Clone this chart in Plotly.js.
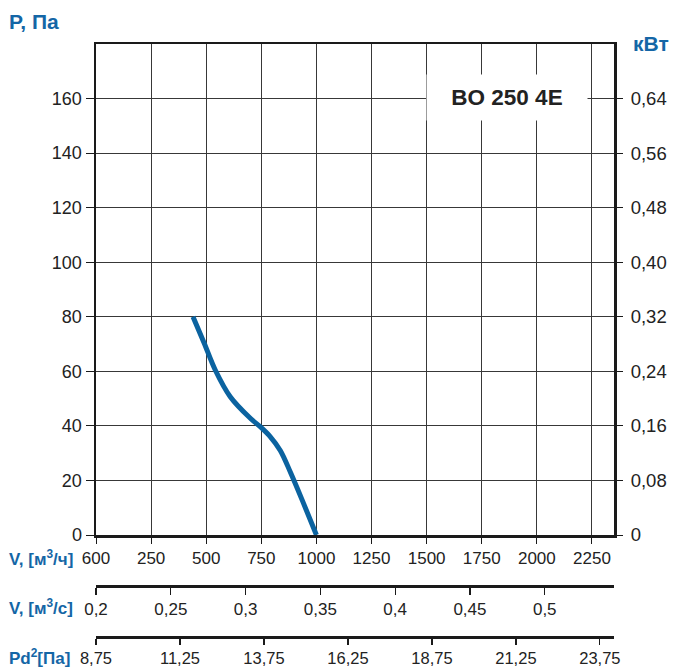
<!DOCTYPE html>
<html>
<head>
<meta charset="utf-8">
<script src="https://cdn.plot.ly/plotly-3.0.1.min.js"></script>
<style>html,body{margin:0;padding:0;background:#fff;}#chart{width:674px;height:669px;}</style>
</head>
<body>
<div id="chart"></div>
<script>
// ---- data ----
var flowM3h = [440, 490, 541, 609, 700, 745, 791, 836, 882, 942, 1000];
var pressurePa = [80, 70.5, 60.5, 50.7, 42.8, 39.7, 36, 31, 23, 11.5, 0];

var flowTickVals = [0, 250, 500, 750, 1000, 1250, 1500, 1750, 2000, 2250];
var flowTickText = ['600', '250', '500', '750', '1000', '1250', '1500', '1750', '2000', '2250'];

var pTickVals = [0, 20, 40, 60, 80, 100, 120, 140, 160];

var kwTickVals = [0, 0.08, 0.16, 0.24, 0.32, 0.40, 0.48, 0.56, 0.64];
var kwTickText = ['0', '0,08', '0,16', '0,24', '0,32', '0,40', '0,48', '0,56', '0,64'];

var flowM3sTickVals = [0.2, 0.25, 0.3, 0.35, 0.4, 0.45, 0.5];
var flowM3sTickText = ['0,2', '0,25', '0,3', '0,35', '0,4', '0,45', '0,5'];

var pdTickVals = [8.75, 11.25, 13.75, 16.25, 18.75, 21.25, 23.75];
var pdTickText = ['8,75', '11,25', '13,75', '16,25', '18,75', '21,25', '23,75'];

var modelName = 'BO 250 4E';

// ---- layout helpers ----
var L = 96, R = 614, T = 44, B = 637;
function px(x) { return (x - L) / (R - L); }
function py(y) { return (B - y) / (B - T); }

var blue = '#1466a6';
var ink = '#222222';
var font = 'Liberation Sans, Arial, Helvetica, sans-serif';

var traces = [
  {x: flowM3h, y: pressurePa, type: 'scatter', mode: 'lines',
   line: {color: '#0b63a0', width: 5, shape: 'spline', smoothing: 1},
   hoverinfo: 'skip', showlegend: false, xaxis: 'x', yaxis: 'y'},
  // empty carriers so that the secondary axes are drawn
  {x: [], y: [], type: 'scatter', mode: 'lines', showlegend: false, xaxis: 'x', yaxis: 'y2'},
  {x: [], y: [], type: 'scatter', mode: 'lines', showlegend: false, xaxis: 'x2', yaxis: 'y'},
  {x: [], y: [], type: 'scatter', mode: 'lines', showlegend: false, xaxis: 'x3', yaxis: 'y'}
];

var layout = {
  width: 674, height: 669,
  margin: {l: L, r: 674 - R, t: T, b: 669 - B, pad: 0},
  paper_bgcolor: '#fff', plot_bgcolor: '#fff',
  font: {family: font, size: 17, color: ink},
  showlegend: false,
  xaxis: {
    range: [0, 2350], domain: [0, 1], anchor: 'y',
    tickvals: flowTickVals, ticktext: flowTickText,
    showgrid: true, gridcolor: '#383838', gridwidth: 1,
    showline: true, linecolor: '#1a1a1a', linewidth: 2.5, mirror: true,
    ticks: 'outside', ticklen: 6, tickcolor: '#1a1a1a', tickwidth: 1,
    zeroline: false, tickfont: {size: 17, color: ink}, fixedrange: true
  },
  yaxis: {
    range: [0, 180], domain: [py(535), 1], anchor: 'x',
    tickvals: pTickVals,
    showgrid: true, gridcolor: '#383838', gridwidth: 1,
    showline: true, linecolor: '#1a1a1a', linewidth: 2.5, mirror: true,
    ticks: 'outside', ticklen: 8, tickcolor: '#1a1a1a', tickwidth: 1,
    zeroline: false, tickfont: {size: 18, color: ink}, fixedrange: true
  },
  yaxis2: {
    range: [0, 0.72], overlaying: 'y', side: 'right', anchor: 'x',
    tickvals: kwTickVals, ticktext: kwTickText,
    showgrid: false, showline: false, zeroline: false,
    ticks: 'outside', ticklen: 8, tickcolor: '#1a1a1a', tickwidth: 1,
    ticklabelstandoff: 4,
    tickfont: {size: 18.5, color: ink}, fixedrange: true
  },
  xaxis2: {
    range: [0.2, 0.5463], overlaying: 'x', anchor: 'free', position: py(586), side: 'bottom',
    tickvals: flowM3sTickVals, ticktext: flowM3sTickText,
    showgrid: false, zeroline: false,
    showline: true, linecolor: '#1a1a1a', linewidth: 2.5,
    ticks: 'outside', ticklen: 7, tickcolor: '#1a1a1a', tickwidth: 1.2,
    tickfont: {size: 17, color: ink}, fixedrange: true
  },
  xaxis3: {
    range: [8.75, 24.17], overlaying: 'x', anchor: 'free', position: 0, side: 'bottom',
    tickvals: pdTickVals, ticktext: pdTickText,
    showgrid: false, zeroline: false,
    showline: true, linecolor: '#1a1a1a', linewidth: 2.5,
    ticks: 'outside', ticklen: 6, tickcolor: '#1a1a1a', tickwidth: 1.2,
    tickfont: {size: 16.5, color: ink}, fixedrange: true
  },
  annotations: [
    {text: '<b>' + modelName + '</b>', xref: 'paper', yref: 'paper',
     x: px(507), y: py(97.5), xanchor: 'center', yanchor: 'middle',
     showarrow: false, bgcolor: '#fff', width: 160, height: 45, borderpad: 0,
     font: {size: 22.5, color: ink, family: font}},
    {text: '<b>P, Па</b>', xref: 'paper', yref: 'paper', x: px(7), y: py(22),
     xanchor: 'left', yanchor: 'middle', showarrow: false,
     font: {size: 21, color: blue, family: font}},
    {text: '<b>кВт</b>', xref: 'paper', yref: 'paper', x: px(671), y: py(43),
     xanchor: 'right', yanchor: 'middle', showarrow: false,
     font: {size: 21, color: blue, family: font}},
    {text: '<b>V, [м<sup>3</sup>/ч]</b>', xref: 'paper', yref: 'paper', x: px(7), y: py(558),
     xanchor: 'left', yanchor: 'middle', showarrow: false,
     font: {size: 17, color: blue, family: font}},
    {text: '<b>V, [м<sup>3</sup>/с]</b>', xref: 'paper', yref: 'paper', x: px(7), y: py(607),
     xanchor: 'left', yanchor: 'middle', showarrow: false,
     font: {size: 17, color: blue, family: font}},
    {text: '<b>Pd<sup>2</sup>[Па]</b>', xref: 'paper', yref: 'paper', x: px(7), y: py(657),
     xanchor: 'left', yanchor: 'middle', showarrow: false,
     font: {size: 17, color: blue, family: font}}
  ]
};

Plotly.newPlot('chart', traces, layout, {staticPlot: true, displayModeBar: false});
</script>
</body>
</html>
